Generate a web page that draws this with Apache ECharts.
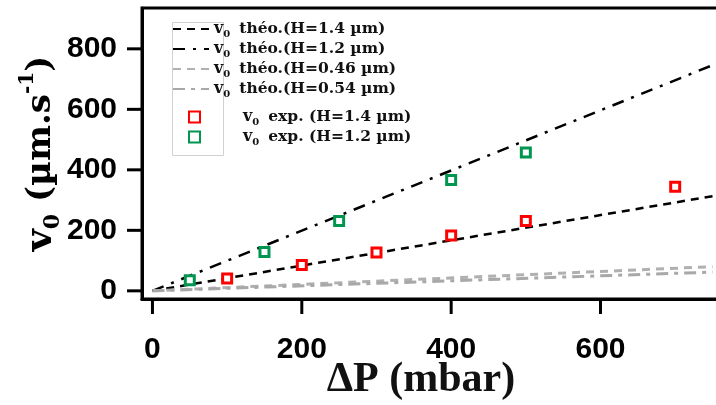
<!DOCTYPE html>
<html>
<head>
<meta charset="utf-8">
<script src="https://cdn.jsdelivr.net/npm/echarts@6/dist/echarts.min.js"></script>
<style>html,body{margin:0;padding:0;background:#fff}#c{width:716px;height:405px}</style>
</head>
<body>
<div id="c"></div>
<script>
// ---- data ----
const xTicks = [0, 200, 400, 600];
const yTicks = [0, 200, 400, 600, 800];
const theoryX = [0, 750];
const theo14 = [0, 313];   // H=1.4 µm
const theo12 = [0, 746];   // H=1.2 µm
const theo046 = [0, 80];   // H=0.46 µm
const theo054 = [0, 62];   // H=0.54 µm
const expX14 = [100, 200, 300, 400, 500, 700];
const expY14 = [41, 85, 127, 183, 231, 344];
const expX12 = [50, 150, 250, 400, 500];
const expY12 = [35, 128, 231, 366, 457];
const lineNames = ['théo.(H=1.4 µm)', 'théo.(H=1.2 µm)', 'théo.(H=0.46 µm)', 'théo.(H=0.54 µm)'];
const expNames = ['exp. (H=1.4 µm)', 'exp. (H=1.2 µm)'];

const X_MIN = -14, X_MAX = 760, Y_MIN = -27, Y_MAX = 935;
const pair = (xs, ys) => xs.map((x, i) => [x, ys[i]]);
const serif = '"Liberation Serif", "DejaVu Serif", serif';
const wideSerif = '"DejaVu Serif", "Liberation Serif", serif';
const sans = '"Liberation Sans", Arial, sans-serif';
const legRich = {
  v: { fontFamily: wideSerif, fontWeight: 'bold', fontSize: 16, color: '#111', lineHeight: 20 },
  s: { fontFamily: wideSerif, fontWeight: 'bold', fontSize: 10, color: '#111', verticalAlign: 'bottom', lineHeight: 19 },
  g: { width: 9 },
  t: { fontFamily: wideSerif, fontWeight: 'bold', fontSize: 15.5, color: '#111', lineHeight: 20 }
};
const legFmt = n => '{v|v}{s|0}{g|}{t|' + n + '}';

const chart = echarts.init(document.getElementById('c'), null, { renderer: 'canvas' });
const lineStyles = [
  { color: '#000', width: 2.5, type: [8, 6] },
  { color: '#000', width: 2.5, type: [12, 8, 3, 8] },
  { color: '#b0b0b0', width: 3, type: [8, 6] },
  { color: '#a8a8a8', width: 3, type: [12, 6, 4, 6] }
];
const lineData = [theo14, theo12, theo046, theo054];
const series = [];
lineData.forEach((d, i) => {
  series.push({
    name: lineNames[i], type: 'line', data: pair(theoryX, d), symbol: 'none',
    lineStyle: lineStyles[i], itemStyle: { color: 'rgba(0,0,0,0)', borderColor: 'rgba(0,0,0,0)', borderWidth: 0 },
    z: 2, animation: false
  });
});
[[expX14, expY14, '#ff0000'], [expX12, expY12, '#00964f']].forEach((e, i) => {
  series.push({
    name: expNames[i], type: 'scatter', data: pair(e[0], e[1]), symbol: 'rect', symbolSize: 9,
    itemStyle: { color: '#fff', borderColor: e[2], borderWidth: 3, opacity: 1 }, z: 3, animation: false
  });
});

const legendBox = {
  type: 'rect', shape: { x: 172.5, y: 22.5, width: 51, height: 133 },
  style: { fill: null, stroke: '#d0d0d0', lineWidth: 1 }, z: 1, silent: true
};

chart.setOption({
  animation: false,
  backgroundColor: '#fff',
  grid: { left: 142, right: -4, top: 8, bottom: 106, show: true, borderColor: '#000', borderWidth: 3,
          containLabel: false, outerBoundsMode: 'none' },
  graphic: [legendBox],
  legend: [{
    data: lineNames, orient: 'vertical', left: 172, top: 21, itemWidth: 36, itemHeight: 14, itemGap: 2,
    padding: 0, formatter: legFmt, textStyle: { rich: legRich }
  }, {
    data: expNames, orient: 'vertical', left: 188, top: 109, itemWidth: 11, itemHeight: 11, itemGap: 2,
    padding: 0, formatter: legFmt, textStyle: { rich: legRich, padding: [0, 0, 0, 38] }
  }],
  xAxis: {
    type: 'value', min: X_MIN, max: X_MAX,
    name: '{t|ΔP (mbar)}', nameLocation: 'middle', nameGap: 60, nameMoveOverlap: false,
    nameTextStyle: { padding: [0, 20, 0, 0], rich: { t: { fontFamily: serif, fontWeight: 'bold', fontSize: 42, color: '#111' } } },
    axisLine: { show: true, onZero: false, lineStyle: { color: '#000', width: 3 } },
    axisTick: { show: false },
    axisLabel: { customValues: xTicks, margin: 36, fontFamily: sans, fontWeight: 'bold', fontSize: 30, color: '#000' },
    splitLine: { show: false }
  },
  yAxis: {
    type: 'value', min: Y_MIN, max: Y_MAX,
    name: '{v|v}{s|0}{t| (µm.s}{u|-1}{t|)}', nameLocation: 'middle', nameGap: 78, nameMoveOverlap: false,
    nameTextStyle: { rich: {
      v: { fontFamily: wideSerif, fontWeight: 'bold', fontSize: 38, color: '#000', lineHeight: 46 },
      s: { fontFamily: wideSerif, fontWeight: 'bold', fontSize: 22, color: '#000', verticalAlign: 'bottom', lineHeight: 44 },
      t: { fontFamily: wideSerif, fontWeight: 'bold', fontSize: 34, color: '#000', lineHeight: 46 },
      u: { fontFamily: wideSerif, fontWeight: 'bold', fontSize: 20, color: '#000', verticalAlign: 'top', lineHeight: 46 }
    } },
    axisLine: { show: true, onZero: false, lineStyle: { color: '#000', width: 3 } },
    axisTick: { show: false },
    axisLabel: { customValues: yTicks, margin: 25, fontFamily: sans, fontWeight: 'bold', fontSize: 30, color: '#000' },
    splitLine: { show: false }
  },
  series: series
});

// axis ticks, placed through the chart's own scales
function toPx(x, y) {
  let p = null;
  try { p = chart.convertToPixel({ seriesIndex: 4 }, [x, y]); } catch (e) { p = null; }
  if (!p || !isFinite(p[0]) || !isFinite(p[1])) {
    try {
      p = [chart.convertToPixel({ xAxisIndex: 0 }, x), chart.convertToPixel({ yAxisIndex: 0 }, y)];
    } catch (e) { p = null; }
  }
  return p;
}
const TICK = 15;
const tickEls = [];
xTicks.forEach(v => {
  const p = toPx(v, Y_MIN);
  if (p) tickEls.push({ type: 'line', shape: { x1: p[0], y1: p[1], x2: p[0], y2: p[1] + TICK },
    style: { stroke: '#000', lineWidth: 3 }, silent: true, z: 5 });
});
yTicks.forEach(v => {
  const p = toPx(X_MIN, v);
  if (p) tickEls.push({ type: 'line', shape: { x1: p[0], y1: p[1], x2: p[0] - TICK, y2: p[1] },
    style: { stroke: '#000', lineWidth: 3 }, silent: true, z: 5 });
});
chart.setOption({ graphic: [legendBox].concat(tickEls) });
</script>
</body>
</html>
